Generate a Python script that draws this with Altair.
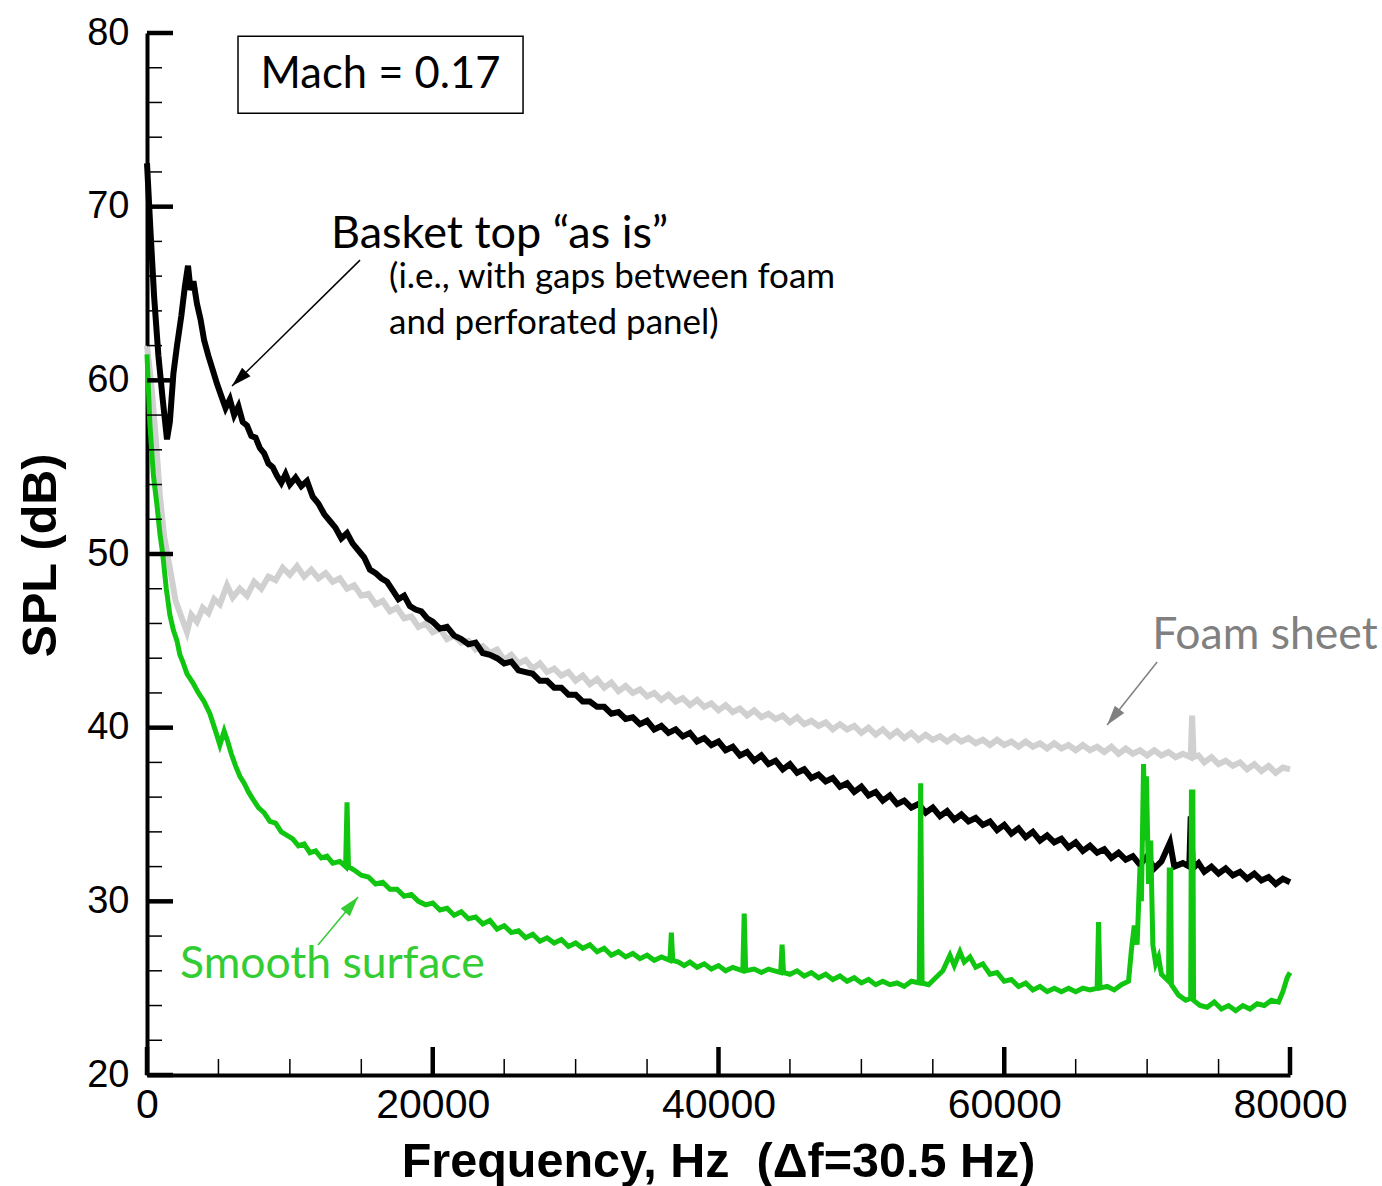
import math
import altair as alt
import pandas as pd

# ---------------- data ----------------
BT_F = [0, 250, 500, 800, 1100, 1400, 1600, 1850, 2100, 2400, 2650, 2870, 3050, 3250, 3500, 3750,
        4000, 4300, 4600, 4900, 5200, 5500, 5800, 6100, 6400, 6700, 7000, 7300, 7600, 7900, 8200,
        8500, 8800, 9100, 9400, 9700, 10000, 10400, 10800, 11200, 11600, 12000, 12400, 12800, 13200,
        13600, 14000, 14400, 14800, 15200, 15600, 16000, 16400, 16800, 17200, 17600, 18000, 18400,
        18800, 19200, 19600, 20000, 20500, 21000, 21500, 22000, 22500, 23000, 23500, 24000, 24500,
        25000, 25500, 26000, 26500, 27000, 27500, 28000, 28500, 29000, 29500, 30000, 30500, 31000,
        31500, 32000, 32500, 33000, 33500, 34000, 34500, 35000, 35500, 36000, 36500, 37000, 37500,
        38000, 38500, 39000, 39500, 40000, 40500, 41000, 41500, 42000, 42500, 43000, 43500, 44000,
        44500, 45000, 45500, 46000, 46500, 47000, 47500, 48000, 48500, 49000, 49500, 50000, 50500,
        51000, 51500, 52000, 52500, 53000, 53500, 54000, 54500, 55000, 55500, 56000, 56500, 57000,
        57500, 58000, 58500, 59000, 59500, 60000, 60500, 61000, 61500, 62000, 62500, 63000, 63500,
        64000, 64500, 65000, 65500, 66000, 66500, 67000, 67500, 68000, 68500, 69000, 69500, 70000,
        70500, 71000, 71600, 71900, 72500, 72950, 73050, 73200, 73600, 74000, 74500, 75000, 75500,
        76000, 76500, 77000, 77500, 78000, 78500, 79000, 79500, 80000]
BT_DB = [72.5, 68.5, 64.8, 61.4, 58.9, 56.6, 57.6, 60.4, 62.0, 63.7, 65.4, 66.6, 65.2, 65.7, 64.4, 63.5,
         62.3, 61.4, 60.6, 59.8, 59.1, 58.4, 58.9, 58.0, 58.5, 57.6, 57.4, 56.8, 56.7, 56.1, 55.8,
         55.2, 55.0, 54.5, 54.1, 54.6, 54.0, 54.4, 53.9, 54.2, 53.3, 52.9, 52.3, 51.9, 51.5,
         50.9, 51.2, 50.6, 50.2, 49.8, 49.1, 48.9, 48.6, 48.4, 47.9, 47.4, 47.6, 47.0,
         46.8, 46.7, 46.3, 46.1, 45.7, 45.8, 45.3, 45.1, 44.8, 44.9, 44.3, 44.2, 44.0,
         43.7, 43.8, 43.3, 43.2, 43.1, 42.7, 42.7, 42.3, 42.3, 41.9, 41.9, 41.5, 41.5,
         41.2, 41.2, 40.8, 40.9, 40.5, 40.6, 40.2, 40.4, 39.9, 40.1, 39.7, 39.9, 39.5,
         39.7, 39.2, 39.4, 39.0, 39.2, 38.7, 38.9, 38.4, 38.6, 38.1, 38.4, 37.9, 38.1,
         37.6, 37.9, 37.4, 37.6, 37.1, 37.3, 36.9, 37.1, 36.6, 36.8, 36.3, 36.6, 36.1,
         36.3, 35.8, 36.1, 35.6, 35.8, 35.4, 35.6, 35.1, 35.4, 34.9, 35.2, 34.7, 35.0,
         34.6, 34.8, 34.4, 34.6, 34.1, 34.4, 33.9, 34.2, 33.7, 34.0, 33.5, 33.8, 33.4,
         33.6, 33.1, 33.4, 32.9, 33.2, 32.8, 33.0, 32.5, 32.8, 32.4, 32.6, 32.1, 32.6,
         31.9, 32.3, 33.4, 32.0, 32.2, 32.0, 34.9, 31.9, 32.2, 31.7, 32.0, 31.6, 31.9,
         31.5, 31.7, 31.3, 31.6, 31.2, 31.4, 31.0, 31.3, 31.1]

FS_F = [0, 300, 600, 900, 1200, 1600, 2000, 2400, 2800, 3100, 3500, 3900, 4300, 4700, 5100, 5600,
        6000, 6500, 7000, 7500, 8000, 8500, 9000, 9500, 10000, 10500, 11000, 11500, 12000, 12500,
        13000, 13500, 14000, 14500, 15000, 15500, 16000, 16500, 17000, 17500, 18000, 18500, 19000,
        19500, 20000, 20500, 21000, 21500, 22000, 22500, 23000, 23500, 24000, 24500, 25000, 25500,
        26000, 26500, 27000, 27500, 28000, 28500, 29000, 29500, 30000, 30500, 31000, 31500, 32000,
        32500, 33000, 33500, 34000, 34500, 35000, 35500, 36000, 36500, 37000, 37500, 38000, 38500,
        39000, 39500, 40000, 40500, 41000, 41500, 42000, 42500, 43000, 43500, 44000, 44500, 45000,
        45500, 46000, 46500, 47000, 47500, 48000, 48500, 49000, 49500, 50000, 50500, 51000, 51500,
        52000, 52500, 53000, 53500, 54000, 54500, 55000, 55500, 56000, 56500, 57000, 57500, 58000,
        58500, 59000, 59500, 60000, 60500, 61000, 61500, 62000, 62500, 63000, 63500, 64000, 64500,
        65000, 65500, 66000, 66500, 67000, 67500, 68000, 68500, 69000, 69500, 70000, 70500, 71000,
        71500, 72000, 72500, 73050, 73150, 73250, 73600, 74000, 74500, 75000, 75500, 76000, 76500,
        77000, 77500, 78000, 78500, 79000, 79500, 80000]
FS_DB = [62.0, 59.8, 56.8, 53.4, 51.0, 49.2, 47.3, 46.4, 45.5, 46.5, 46.1, 46.9, 46.6, 47.4, 47.1, 48.2,
         47.5, 48.0, 47.6, 48.4, 48.0, 48.7, 48.5, 49.2, 48.8, 49.3, 48.7, 49.1, 48.6, 48.9,
         48.4, 48.6, 48.0, 48.2, 47.6, 47.7, 47.1, 47.3, 46.7, 46.9, 46.3, 46.4, 45.8,
         46.0, 45.5, 45.7, 45.1, 45.3, 44.9, 45.0, 44.5, 44.7, 44.3, 44.5, 43.9, 44.2,
         43.7, 43.9, 43.4, 43.7, 43.2, 43.4, 43.0, 43.2, 42.7, 43.0, 42.5, 42.8, 42.3,
         42.6, 42.1, 42.4, 42.0, 42.2, 41.8, 42.0, 41.6, 41.9, 41.5, 41.7, 41.3, 41.6,
         41.2, 41.4, 41.0, 41.3, 40.9, 41.1, 40.7, 41.0, 40.6, 40.8, 40.5, 40.7, 40.3,
         40.6, 40.2, 40.4, 40.1, 40.3, 39.9, 40.2, 39.9, 40.1, 39.7, 40.0, 39.6, 39.9,
         39.5, 39.8, 39.4, 39.7, 39.3, 39.6, 39.3, 39.5, 39.2, 39.5, 39.2, 39.4, 39.1,
         39.3, 39.0, 39.3, 39.0, 39.2, 38.9, 39.2, 38.9, 39.1, 38.8, 39.1, 38.8, 39.0,
         38.7, 39.0, 38.7, 38.9, 38.6, 38.9, 38.5, 38.8, 38.5, 38.7, 38.4, 38.7, 38.4,
         38.6, 38.3, 38.5, 38.3, 40.7, 38.3, 38.4, 38.0, 38.3, 37.9, 38.1, 37.8, 38.0,
         37.6, 37.9, 37.5, 37.8, 37.4, 37.7, 37.6]

SS_F = [0, 200, 450, 700, 900, 1100, 1350, 1600, 1850, 2100, 2300, 2500, 2800, 3200, 3600, 4000,
        4400, 4800, 5100, 5400, 5650, 5900, 6200, 6500, 6800, 7100, 7400, 7800, 8200, 8600, 9000,
        9400, 9800, 10200, 10600, 11000, 11400, 11800, 12200, 12600, 13000, 13500, 13900, 14000,
        14100, 14500, 15000, 15500, 16000, 16500, 17000, 17500, 18000, 18500, 19000, 19500, 20000,
        20500, 21000, 21500, 22000, 22500, 23000, 23500, 24000, 24500, 25000, 25500, 26000, 26500,
        27000, 27500, 28000, 28500, 29000, 29500, 30000, 30500, 31000, 31500, 32000, 32500, 33000,
        33500, 34000, 34500, 35000, 35500, 36000, 36600, 36700, 36800, 37200, 37600, 38000, 38500,
        39000, 39500, 40000, 40500, 41000, 41700, 41800, 41900, 42500, 43000, 43500, 44350, 44450,
        44550, 45000, 45500, 46000, 46500, 47000, 47500, 48000, 48500, 49000, 49500, 50000, 50500,
        51000, 51500, 52000, 52500, 53000, 53500, 54050, 54150, 54250, 54700, 55200, 55700, 56200,
        56500, 56900, 57200, 57600, 58000, 58500, 59000, 59500, 60000, 60500, 61000, 61500, 62000,
        62500, 63000, 63500, 64000, 64500, 65000, 65500, 66000, 66500, 66600, 66700, 67200, 67700,
        68200, 68700, 68900, 69100, 69300, 69500, 69600, 69750, 69850, 69950, 70100, 70250, 70400,
        70600, 70800, 71000, 71500, 71550, 71650, 71700, 72200, 72700, 73050, 73100, 73200, 73250,
        73700, 74200, 74700, 75200, 75700, 76200, 76700, 77200, 77700, 78200, 78700, 79200, 79500,
        79800, 80000]
SS_DB = [61.5, 57.5, 54.5, 52.8, 51.2, 50.0, 48.0, 46.5, 45.6, 45.0, 44.2, 43.8, 43.1, 42.6, 42.0, 41.5,
         40.8, 39.8, 39.0, 39.8, 39.2, 38.5, 37.8, 37.2, 36.8, 36.3, 35.9, 35.4, 35.1, 34.6, 34.5,
         34.0, 33.8, 33.6, 33.2, 33.3, 32.8, 32.9, 32.5, 32.6, 32.2, 32.3, 32.0, 35.7,
         32.0, 31.8, 31.5, 31.4, 31.0, 31.1, 30.7, 30.7, 30.3, 30.4, 30.0, 29.8, 29.9,
         29.5, 29.6, 29.2, 29.4, 29.0, 29.1, 28.7, 28.9, 28.4, 28.6, 28.2, 28.3, 27.9,
         28.1, 27.7, 27.9, 27.6, 27.8, 27.4, 27.6, 27.3, 27.5, 27.1, 27.3, 26.9, 27.1,
         26.8, 27.0, 26.7, 26.9, 26.6, 26.8, 26.6, 28.2, 26.6, 26.5, 26.3, 26.5, 26.2,
         26.4, 26.1, 26.3, 26.0, 26.2, 26.0, 29.3, 26.0, 26.1, 25.9, 26.1, 25.9, 27.5,
         25.9, 25.8, 26.0, 25.7, 25.9, 25.6, 25.8, 25.5, 25.7, 25.4, 25.6, 25.3, 25.5,
         25.2, 25.4, 25.2, 25.3, 25.1, 25.4, 25.3, 36.8, 25.3, 25.2, 25.6, 26.0, 26.9,
         26.3, 27.1, 26.5, 26.8, 26.2, 26.4, 25.8, 25.9, 25.4, 25.5, 25.1, 25.3, 24.9,
         25.1, 24.8, 25.0, 24.8, 25.0, 24.8, 25.0, 24.9, 25.0, 28.8, 25.0, 25.1, 24.9,
         25.2, 25.4, 27.2, 28.6, 27.5, 32.0, 30.0, 37.9, 33.5, 37.2, 31.0, 33.5, 27.5,
         26.4, 26.8, 25.8, 25.4, 31.8, 31.8, 25.2, 24.6, 24.3, 24.4, 36.3, 36.3, 24.3,
         24.0, 23.9, 24.2, 23.8, 24.0, 23.7, 24.0, 23.8, 24.1, 24.0, 24.3, 24.2, 24.8,
         25.6, 25.9]

X_MAJOR = [0, 20000, 40000, 60000, 80000]
X_MINOR = [5000, 10000, 15000, 25000, 30000, 35000, 45000, 50000, 55000, 65000, 70000, 75000]
Y_MAJOR = [20, 30, 40, 50, 60, 70, 80]
Y_MINOR = [22, 24, 26, 28, 32, 34, 36, 38, 42, 44, 46, 48, 52, 54, 56, 58, 62, 64, 66, 68, 72, 74, 76, 78]

# annotation anchors in data units
LABEL_TEXT = ["Basket top \u201cas is\u201d", "(i.e., with gaps between foam", "and perforated panel)",
              "Foam sheet", "Smooth surface"]
LABEL_F = [12880, 16940, 16940, 70350, 2310]
LABEL_DB = [68.45, 65.95, 63.30, 45.25, 26.35]
LABEL_COLOR = ["#000000", "#000000", "#000000", "#808080", "#33cc33"]
LABEL_SIZE = [45, 35, 35, 44.5, 44.5]

BOX_F = [6370, 26320]
BOX_DB = [75.38, 79.82]
BOX_TEXT = "Mach = 0.17"

ARROW_F0 = [14910, 70700, 11970]
ARROW_DB0 = [66.92, 43.78, 27.48]
ARROW_F1 = [5950, 67200, 14770]
ARROW_DB1 = [59.67, 40.15, 30.25]
ARROW_COLOR = ["#000000", "#808080", "#33cc33"]

# ---------------- build chart ----------------
W, H = 1143, 1042
XMAX, YMIN, YMAX = 80000, 20, 80
px_per_hz = W / XMAX
px_per_db = H / (YMAX - YMIN)

xs = alt.Scale(domain=[0, XMAX], nice=False, zero=False)
ys = alt.Scale(domain=[YMIN, YMAX], nice=False, zero=False)

fs = pd.DataFrame({"f": FS_F, "db": FS_DB})
bt = pd.DataFrame({"f": BT_F, "db": BT_DB})
ss = pd.DataFrame({"f": SS_F, "db": SS_DB})

xaxis = alt.Axis(values=X_MAJOR, format="d", labelFont="Liberation Sans", labelFontSize=41,
                 labelColor="black", ticks=False, grid=False, domainWidth=4, domainColor="black",
                 labelPadding=10, labelFlush=False,
                 title="Frequency, Hz \u00a0(\u0394f=30.5 Hz)", titleFont="Liberation Sans",
                 titleFontSize=48.5, titleFontWeight="bold", titleColor="black",
                 titleX=571, titleY=86, titleBaseline="middle", titleAlign="center")
yaxis = alt.Axis(values=Y_MAJOR, format="d", labelFont="Liberation Sans", labelFontSize=38,
                 labelColor="black", ticks=False, grid=False, domainWidth=4, domainColor="black",
                 labelPadding=18, labelFlush=False,
                 title="SPL (dB)", titleFont="Liberation Sans", titleFontSize=48.5,
                 titleFontWeight="bold", titleColor="black", titleAngle=270,
                 titleX=-107, titleY=522, titleBaseline="middle", titleAlign="center")

gray = alt.Chart(fs).mark_line(color="#d0d0d0", strokeWidth=6, strokeJoin="miter").encode(
    x=alt.X("f:Q", scale=xs, axis=xaxis), y=alt.Y("db:Q", scale=ys, axis=yaxis))
black = alt.Chart(bt).mark_line(color="#000000", strokeWidth=6, strokeJoin="miter").encode(
    x=alt.X("f:Q", scale=xs), y=alt.Y("db:Q", scale=ys))
green = alt.Chart(ss).mark_line(color="#11c611", strokeWidth=5, strokeJoin="miter").encode(
    x=alt.X("f:Q", scale=xs), y=alt.Y("db:Q", scale=ys))

xmaj = alt.Chart(pd.DataFrame({"v": X_MAJOR})).mark_rule(color="black", strokeWidth=4.5).encode(
    x=alt.X("v:Q", scale=xs), y=alt.value(H), y2=alt.value(H - 28))
xmin = alt.Chart(pd.DataFrame({"v": X_MINOR})).mark_rule(color="black", strokeWidth=1.5).encode(
    x=alt.X("v:Q", scale=xs), y=alt.value(H), y2=alt.value(H - 16))
ymaj = alt.Chart(pd.DataFrame({"v": Y_MAJOR})).mark_rule(color="black", strokeWidth=4.5).encode(
    y=alt.Y("v:Q", scale=ys), x=alt.value(0), x2=alt.value(26))
ymin = alt.Chart(pd.DataFrame({"v": Y_MINOR})).mark_rule(color="black", strokeWidth=1.5).encode(
    y=alt.Y("v:Q", scale=ys), x=alt.value(0), x2=alt.value(15))

box_df = pd.DataFrame({"f0": [BOX_F[0]], "f1": [BOX_F[1]], "d0": [BOX_DB[0]], "d1": [BOX_DB[1]],
                       "fc": [(BOX_F[0] + BOX_F[1]) / 2], "dc": [(BOX_DB[0] + BOX_DB[1]) / 2],
                       "t": [BOX_TEXT]})
box = alt.Chart(box_df).mark_rect(fill="white", stroke="black", strokeWidth=1.5).encode(
    x=alt.X("f0:Q", scale=xs), x2="f1:Q", y=alt.Y("d0:Q", scale=ys), y2="d1:Q")
box_txt = alt.Chart(box_df).mark_text(font="Lato", fontSize=43.5, color="black",
                                      align="center", baseline="middle").encode(
    x=alt.X("fc:Q", scale=xs), y=alt.Y("dc:Q", scale=ys), text="t:N")

lab_df = pd.DataFrame({"f": LABEL_F, "db": LABEL_DB, "t": LABEL_TEXT, "c": LABEL_COLOR,
                       "s": LABEL_SIZE})
labels = alt.Chart(lab_df).mark_text(font="Lato", align="left", baseline="middle").encode(
    x=alt.X("f:Q", scale=xs), y=alt.Y("db:Q", scale=ys), text="t:N",
    color=alt.Color("c:N", scale=None), size=alt.Size("s:Q", scale=None))

seg_rows = []
head_rows = []
for i in range(len(ARROW_F0)):
    seg_rows.append({"k": i, "f": ARROW_F0[i], "db": ARROW_DB0[i], "c": ARROW_COLOR[i]})
    seg_rows.append({"k": i, "f": ARROW_F1[i], "db": ARROW_DB1[i], "c": ARROW_COLOR[i]})
    dx = (ARROW_F1[i] - ARROW_F0[i]) * px_per_hz
    dy = -(ARROW_DB1[i] - ARROW_DB0[i]) * px_per_db
    ang = math.degrees(math.atan2(dx, -dy)) % 360
    head_rows.append({"f": ARROW_F1[i], "db": ARROW_DB1[i], "c": ARROW_COLOR[i], "a": ang})
seg_df = pd.DataFrame(seg_rows)
head_df = pd.DataFrame(head_rows)

arrows = alt.Chart(seg_df).mark_line(strokeWidth=1.5).encode(
    x=alt.X("f:Q", scale=xs), y=alt.Y("db:Q", scale=ys), detail="k:N",
    color=alt.Color("c:N", scale=None))
heads = alt.Chart(head_df).mark_point(shape="M0,0L-0.3,1L0.3,1Z", filled=True, size=1600,
                                      opacity=1, strokeWidth=0).encode(
    x=alt.X("f:Q", scale=xs), y=alt.Y("db:Q", scale=ys),
    color=alt.Color("c:N", scale=None), angle=alt.Angle("a:Q", scale=None))

chart = alt.layer(gray, black, green, xmin, xmaj, ymin, ymaj, box, box_txt, labels, arrows, heads
                  ).resolve_scale(color="independent").properties(
    width=W, height=H,
    autosize=alt.AutoSizeParams(type="none"),
    padding={"left": 147, "top": 33, "right": 92, "bottom": 111},
    background="white",
).configure_view(stroke=None)

chart.save("out.html", embed_options={"renderer": "svg", "actions": False})
